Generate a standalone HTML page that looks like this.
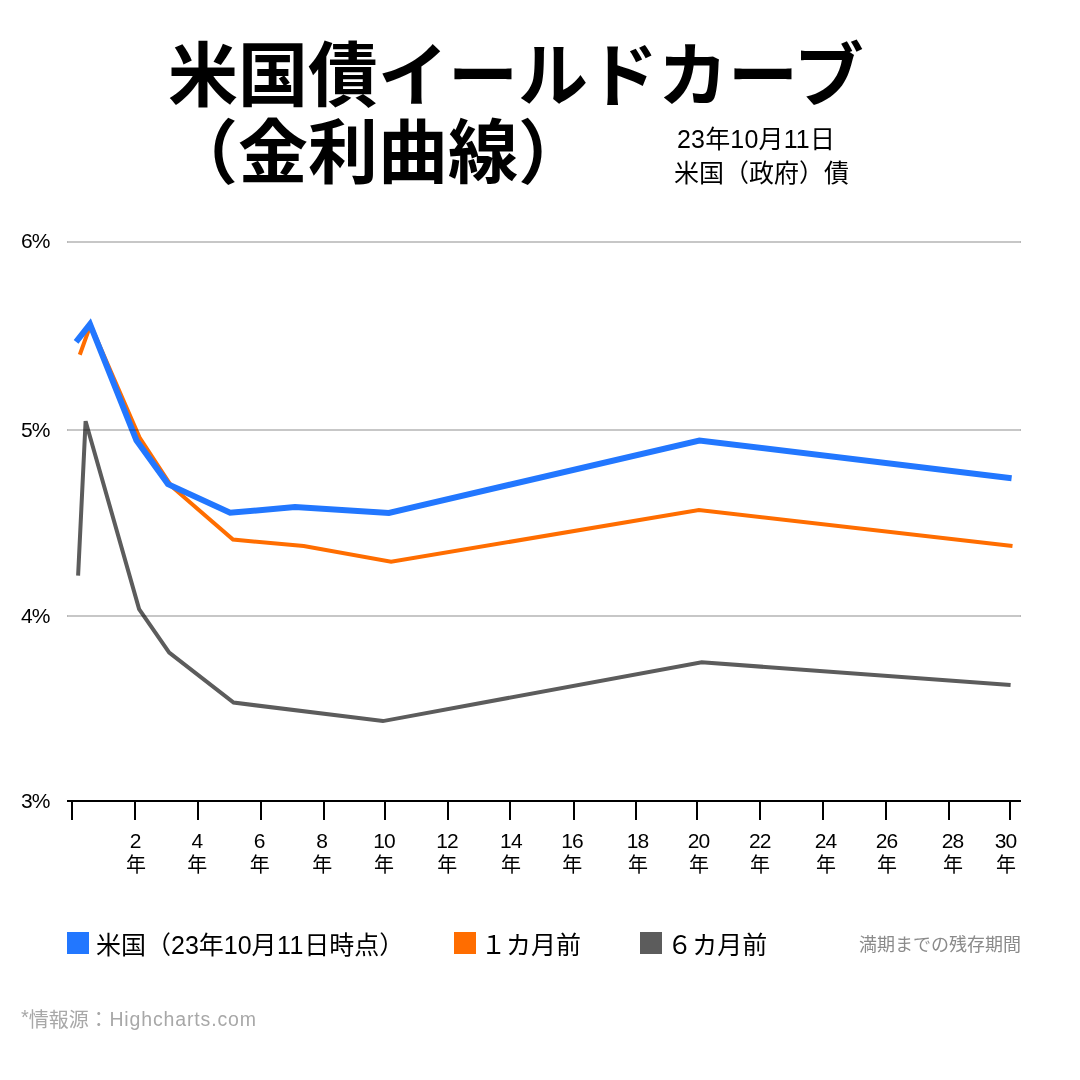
<!DOCTYPE html>
<html lang="ja">
<head>
<meta charset="utf-8">
<title>米国債イールドカーブ（金利曲線）</title>
<style>
  html, body { margin: 0; padding: 0; background: #ffffff; }
  body { width: 1080px; height: 1080px; overflow: hidden; position: relative;
         font-family: "Liberation Sans", "Noto Sans CJK JP", sans-serif; color: #000; }
  svg { position: absolute; left: 0; top: 0; display: block; }
  text { font-family: "Liberation Sans", "Noto Sans CJK JP", sans-serif; }
  .title { font-size: 70px; font-weight: 700; fill: #000; }
  .sub { font-size: 25px; fill: #000; }
  .sub1 { letter-spacing: 0.17px; }
  .ylab { font-size: 21px; fill: #000; letter-spacing: -1px; }
  .xlab { font-size: 20px; fill: #000; text-anchor: middle; }
  .xlab .d { font-size: 21px; }
  .xlab .d2 { letter-spacing: -0.9px; }
  .leg { font-size: 25px; fill: #000; }
  .note { font-size: 18px; fill: #8a8a8a; text-anchor: end; }
  .src { font-size: 20px; fill: #a8a8a8; }
  .src .lat { font-size: 19.5px; letter-spacing: 0.86px; }
</style>
</head>
<body>
<svg width="1080" height="1080" viewBox="0 0 1080 1080">
  <rect x="0" y="0" width="1080" height="1080" fill="#ffffff"/>

  <!-- title -->
  <text class="title" x="168" y="101.3">米国債イールドカーブ</text>
  <text class="title" x="168" y="178">（金利曲線）</text>
  <text class="sub sub1" x="677" y="148">23年10月11日</text>
  <text class="sub" x="674" y="182">米国（政府）債</text>

  <!-- y labels -->
  <text class="ylab" x="21" y="248">6%</text>
  <text class="ylab" x="21" y="437">5%</text>
  <text class="ylab" x="21" y="623">4%</text>
  <text class="ylab" x="21" y="808">3%</text>

  <!-- series -->
  <g fill="none" stroke-linejoin="miter" stroke-linecap="butt">
    <polyline stroke="#5c5c5c" stroke-width="4"
      points="78.1,575.7 85.6,421.2 139.1,609.1 169.2,652.6 233.6,702.6 382.9,721.1 701.7,662.3 1010.6,685"/>
    <polyline stroke="#ff6d00" stroke-width="4"
      points="79.8,354.7 90.55,324.8 139.9,438.2 171.7,486.5 233,539.6 303.7,546.1 391.1,561.7 698.9,510.1 1012.5,546"/>
    <polyline stroke="#2277ff" stroke-width="6"
      points="76.1,341.8 90,324.2 136.4,440.2 168,484.1 230.1,512.7 295,507.1 388.9,512.9 699.4,440.5 1011.6,478.2"/>
  </g>

  <!-- grid lines (translucent, on top) -->
  <g fill="#000000" fill-opacity="0.22">
    <rect x="67" y="241" width="954" height="2"/>
    <rect x="67" y="429" width="954" height="2"/>
    <rect x="67" y="615" width="954" height="2"/>
  </g>
  <g fill="#000000" fill-opacity="0.07">
    <rect x="67" y="241" width="1" height="2"/><rect x="1020" y="241" width="1" height="2"/>
    <rect x="67" y="429" width="1" height="2"/><rect x="1020" y="429" width="1" height="2"/>
    <rect x="67" y="615" width="1" height="2"/><rect x="1020" y="615" width="1" height="2"/>
  </g>

  <!-- x axis -->
  <g fill="#000000">
    <rect x="67" y="800" width="954" height="2"/>
    <rect x="71" y="800" width="2" height="20"/>
    <rect x="134" y="800" width="2" height="20"/>
    <rect x="197" y="800" width="2" height="20"/>
    <rect x="260" y="800" width="2" height="20"/>
    <rect x="323" y="800" width="2" height="20"/>
    <rect x="384" y="800" width="2" height="20"/>
    <rect x="447" y="800" width="2" height="20"/>
    <rect x="509" y="800" width="2" height="20"/>
    <rect x="573" y="800" width="2" height="20"/>
    <rect x="635" y="800" width="2" height="20"/>
    <rect x="696" y="800" width="2" height="20"/>
    <rect x="759" y="800" width="2" height="20"/>
    <rect x="822" y="800" width="2" height="20"/>
    <rect x="885" y="800" width="2" height="20"/>
    <rect x="948" y="800" width="2" height="20"/>
    <rect x="1009" y="800" width="2" height="20"/>
  </g>

  <!-- x labels -->
  <g class="xlab">
    <text class="d" x="135.6" y="848">2</text><text x="136" y="872">年</text>
    <text class="d" x="197.3" y="848">4</text><text x="197.3" y="872">年</text>
    <text class="d" x="259.6" y="848">6</text><text x="259.7" y="872">年</text>
    <text class="d" x="322.1" y="848">8</text><text x="322.2" y="872">年</text>
    <text class="d d2" x="384" y="848">10</text><text x="384" y="872">年</text>
    <text class="d d2" x="447" y="848">12</text><text x="447.3" y="872">年</text>
    <text class="d d2" x="510.9" y="848">14</text><text x="511" y="872">年</text>
    <text class="d d2" x="572" y="848">16</text><text x="572.3" y="872">年</text>
    <text class="d d2" x="637.6" y="848">18</text><text x="638" y="872">年</text>
    <text class="d d2" x="698.6" y="848">20</text><text x="699" y="872">年</text>
    <text class="d d2" x="759.8" y="848">22</text><text x="760.1" y="872">年</text>
    <text class="d d2" x="825.6" y="848">24</text><text x="826" y="872">年</text>
    <text class="d d2" x="886.6" y="848">26</text><text x="887" y="872">年</text>
    <text class="d d2" x="952.6" y="848">28</text><text x="953" y="872">年</text>
    <text class="d d2" x="1005.6" y="848">30</text><text x="1006" y="872">年</text>
  </g>

  <!-- legend -->
  <rect x="67" y="932" width="22" height="22" fill="#2277ff"/>
  <text class="leg" x="96" y="953.8">米国（23年10月<tspan dx="0.3">1</tspan><tspan dx="0.6">1</tspan><tspan dx="0.8">日時点）</tspan></text>
  <rect x="454" y="932" width="22" height="22" fill="#ff6d00"/>
  <text class="leg" x="481" y="953.9">１カ月前</text>
  <rect x="640" y="932" width="22" height="22" fill="#5c5c5c"/>
  <text class="leg" x="667.2" y="953.9">６カ月前</text>
  <text class="note" x="1021" y="951">満期までの残存期間</text>

  <!-- source -->
  <text class="src" x="21" y="1026.5"><tspan dy="-2.6">*</tspan><tspan dy="2.6">情報源：</tspan><tspan class="lat" dx="0.6" dy="-0.9">Highcharts.com</tspan></text>
</svg>
</body>
</html>
